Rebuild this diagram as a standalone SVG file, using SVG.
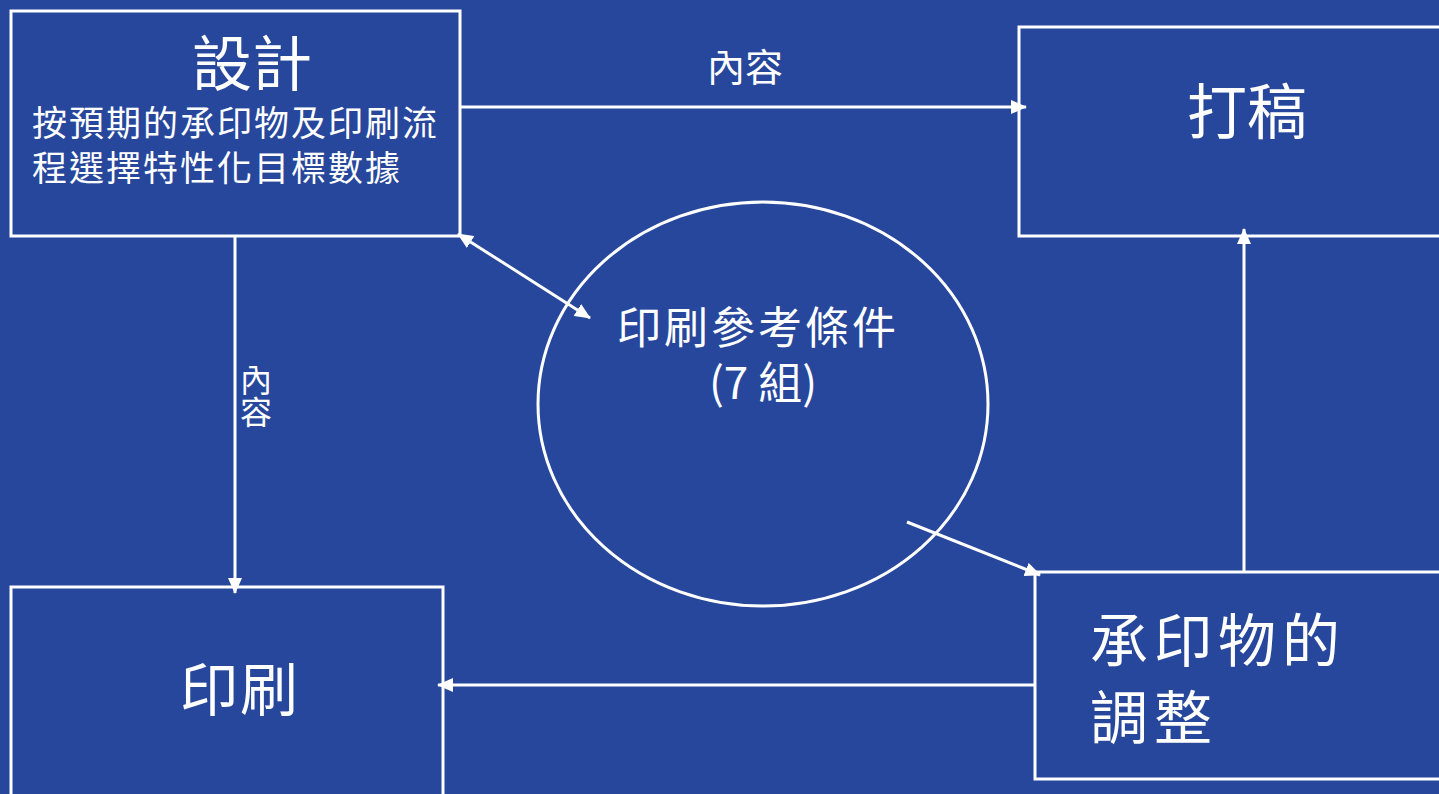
<svg xmlns="http://www.w3.org/2000/svg" width="1439" height="794" viewBox="0 0 1439 794">
<defs>
<marker id="ahb" markerWidth="16" markerHeight="14" refX="15" refY="7" orient="auto-start-reverse" markerUnits="userSpaceOnUse">
<path d="M0,0 L16,7 L0,14 Z" fill="#fff"/>
</marker>
</defs>
<style>
.box{fill:none;stroke:#fff;stroke-width:3}
.ln{fill:none;stroke:#fff;stroke-width:3;marker-end:url(#ahb)}
text{fill:#fff;font-family:"Noto Sans CJK TC","Noto Sans CJK SC",sans-serif}
</style>
<rect width="1439" height="794" fill="#27479c"/>
<g id="design">
<rect class="box" x="11" y="11" width="449" height="225"/>
<text x="192" y="86" font-size="60">設計</text>
<text x="32" y="136" font-size="35" letter-spacing="2">按預期的承印物及印刷流</text>
<text x="32" y="181" font-size="35" letter-spacing="2">程選擇特性化目標數據</text>
</g>
<g id="draft">
<rect class="box" x="1019" y="27" width="430" height="209"/>
<text x="1187" y="134" font-size="60">打稿</text>
</g>
<g id="print">
<rect class="box" x="11" y="587" width="432" height="220"/>
<text x="180" y="711" font-size="58" letter-spacing="2">印刷</text>
</g>
<g id="substrate">
<rect class="box" x="1035" y="572" width="414" height="207"/>
<text x="1090" y="662" font-size="58" letter-spacing="6">承印物的</text>
<text x="1090" y="739" font-size="58" letter-spacing="6">調整</text>
</g>
<g id="ref">
<ellipse cx="763" cy="404" rx="225" ry="202" fill="none" stroke="#fff" stroke-width="3"/>
<text x="617" y="344" font-size="44" letter-spacing="3">印刷參考條件</text>
<text x="763" y="399" font-size="44" text-anchor="middle">(7 組)</text>
</g>
<g id="connectors">
<line class="ln" x1="460" y1="107" x2="1026" y2="107"/>
<text x="745" y="81" font-size="38" text-anchor="middle">內容</text>
<line class="ln" x1="235" y1="236" x2="235" y2="593"/>
<text x="256" y="364" font-size="32" writing-mode="vertical-rl" text-orientation="upright">內容</text>
<line class="ln" x1="458" y1="234" x2="590" y2="318" style="marker-start:url(#ahb)"/>
<line class="ln" x1="907" y1="522" x2="1040" y2="575"/>
<line class="ln" x1="1035" y1="685" x2="438" y2="685"/>
<line class="ln" x1="1244" y1="572" x2="1244" y2="229"/>
</g>
</svg>
